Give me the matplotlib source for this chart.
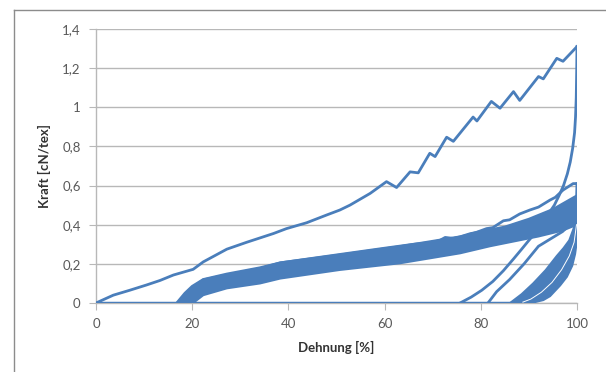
import matplotlib.pyplot as plt
from matplotlib.lines import Line2D

blue = "#4a7ebb"

# first loading cycle
load1_x = [0, 3.6, 7.0, 10.5, 13.3, 16.1, 18.5, 20.2, 22.3, 27.2, 31.3, 36.9, 39.6, 43.8, 48.0, 50.7, 52.8, 57.0,
           60.4, 62.5, 65.3, 67.0, 69.4, 70.5, 72.9, 74.3, 78.4, 79.2, 82.2, 84.0, 86.8, 88.1,
           92.0, 93.0, 95.8, 97.1, 100]
load1_y = [0, 0.04, 0.065, 0.092, 0.115, 0.143, 0.16, 0.172, 0.21, 0.275, 0.31, 0.355, 0.38, 0.41, 0.45, 0.475, 0.50, 0.56,
           0.62, 0.59, 0.67, 0.665, 0.765, 0.748, 0.847, 0.826, 0.95, 0.93, 1.03, 0.995, 1.08, 1.035,
           1.157, 1.145, 1.25, 1.235, 1.31]

# first unloading
unload1_x = [100, 99.95, 99.85, 99.7, 99.5, 99.1, 98.6, 98.0, 97.2, 96.3, 95.3, 94.2, 93.0, 91.6, 90.0, 88.5,
             86.8, 84.7, 82.5, 80.2, 78.0, 75.7]
unload1_y = [1.31, 1.2, 1.05, 0.95, 0.87, 0.79, 0.72, 0.66, 0.60, 0.55, 0.50, 0.46, 0.415, 0.365, 0.32, 0.275,
             0.225, 0.165, 0.11, 0.065, 0.03, 0]

# second cycle (upper edge of the bundle)
load2_x = [16.8, 18.5, 20.0, 22.3, 27.2, 34.1, 38.3, 50.7, 60.0, 66.0, 70.0, 71.5, 72.6, 74.3, 77.0, 79.0,
           81.2, 82.5, 84.7, 86.0, 88.1, 90.2, 92.0, 94.4, 95.5, 97.1, 99.2, 100]
load2_y = [0, 0.05, 0.085, 0.12, 0.148, 0.18, 0.205, 0.248, 0.28, 0.30, 0.31, 0.32, 0.335, 0.33, 0.345, 0.36,
           0.38, 0.385, 0.42, 0.425, 0.455, 0.475, 0.49, 0.526, 0.54, 0.577, 0.61, 0.61]
unload2_x = [100, 99.9, 99.5, 98.5, 97.0, 95.0, 92.0, 89.0, 86.0, 83.3, 81.5]
unload2_y = [0.61, 0.52, 0.45, 0.40, 0.365, 0.335, 0.29, 0.20, 0.12, 0.058, 0]

# envelope of the remaining loading cycles
band_x = [17.0, 18.5, 20.0, 22.3, 27.2, 34.1, 38.3, 50.7, 63.2, 75.7, 77.8, 85.0, 90.0, 95.0, 100]
band_hi = [0, 0.045, 0.08, 0.12, 0.145, 0.178, 0.207, 0.247, 0.29, 0.34, 0.356, 0.39, 0.43, 0.48, 0.55]
band_lo_x = [20.2, 22.3, 27.2, 34.1, 38.3, 50.7, 63.2, 75.7, 81.9, 92.0, 97.0, 100]
band_lo = [0, 0.04, 0.075, 0.10, 0.125, 0.169, 0.203, 0.254, 0.29, 0.34, 0.37, 0.40]

# envelope of the remaining unloading cycles
ub_x = [100, 99.8, 99.3, 98.4, 97.2, 95.8, 93.5, 90.9, 88.5, 86.1, 90.5, 93.0, 94.4, 96.5, 97.9, 99.0, 99.6, 100]
ub_y = [0.55, 0.45, 0.38, 0.32, 0.28, 0.24, 0.168, 0.10, 0.045, 0, 0, 0.015, 0.035, 0.09, 0.134, 0.19, 0.25, 0.32]

# white gaps between single unloading curves of the bundle
gap_x = [99.9, 99.4, 98.4, 96.8, 94.8, 92.6, 90.4, 88.6]
gap_y = [0.40, 0.31, 0.24, 0.17, 0.105, 0.055, 0.02, 0.003]

base_x = [0, 88.5]
base_y = [0, 0]

fig = plt.figure(figsize=(6.06, 3.72), dpi=100)
plt.rcParams['font.family'] = ['Lato', 'DejaVu Sans']
ax = fig.add_axes([0.1584, 0.1855, 0.7937, 0.7366])

ax.fill(band_x + band_lo_x[::-1], band_hi + band_lo[::-1], color=blue, lw=1.5, ec=blue, zorder=3)
ax.fill(ub_x, ub_y, color=blue, lw=1.5, ec=blue, zorder=3)
ax.plot(gap_x, gap_y, color='white', lw=0.7, zorder=3.5)
ax.plot(load1_x, load1_y, color=blue, lw=2, zorder=4)
ax.plot(unload1_x, unload1_y, color=blue, lw=2, zorder=4)
ax.plot(load2_x, load2_y, color=blue, lw=2, zorder=4)
ax.plot(unload2_x, unload2_y, color=blue, lw=2, zorder=4)
ax.plot(base_x, base_y, color=blue, lw=2.5, zorder=4, solid_capstyle='butt')

ax.set_xlim(0, 100)
ax.set_ylim(0, 1.4)
ax.set_xticks([0, 20, 40, 60, 80, 100])
ax.set_yticks([0, 0.2, 0.4, 0.6, 0.8, 1.0, 1.2, 1.4])
ax.set_yticklabels(["0", "0,2", "0,4", "0,6", "0,8", "1", "1,2", "1,4"])
ax.grid(axis='y', color='#b8b8b8', lw=1)
ax.set_axisbelow(True)
for s in ['top', 'right']:
    ax.spines[s].set_visible(False)
for s in ['left', 'bottom']:
    ax.spines[s].set_color('#b8b8b8')
    ax.spines[s].set_linewidth(1)
ax.tick_params(axis='y', length=5, color='#b8b8b8', labelsize=9.5, labelcolor='#595959', pad=6)
ax.tick_params(axis='x', length=5, color='#b8b8b8', labelsize=9.5, labelcolor='#595959', pad=6)
ax.set_xlabel("Dehnung [%]", fontsize=9.5, fontweight='bold', color='#333333', labelpad=8)
ax.set_ylabel("Kraft [cN/tex]", fontsize=9.5, fontweight='bold', color='#333333', labelpad=8)

# chart frame
fig.add_artist(Line2D([14 / 606, 1], [1 - 10 / 372, 1 - 10 / 372], color='#8c8c8c', lw=1))
fig.add_artist(Line2D([14 / 606, 14 / 606], [0, 1 - 10 / 372], color='#8c8c8c', lw=1))

plt.savefig("out.png", dpi=100)
